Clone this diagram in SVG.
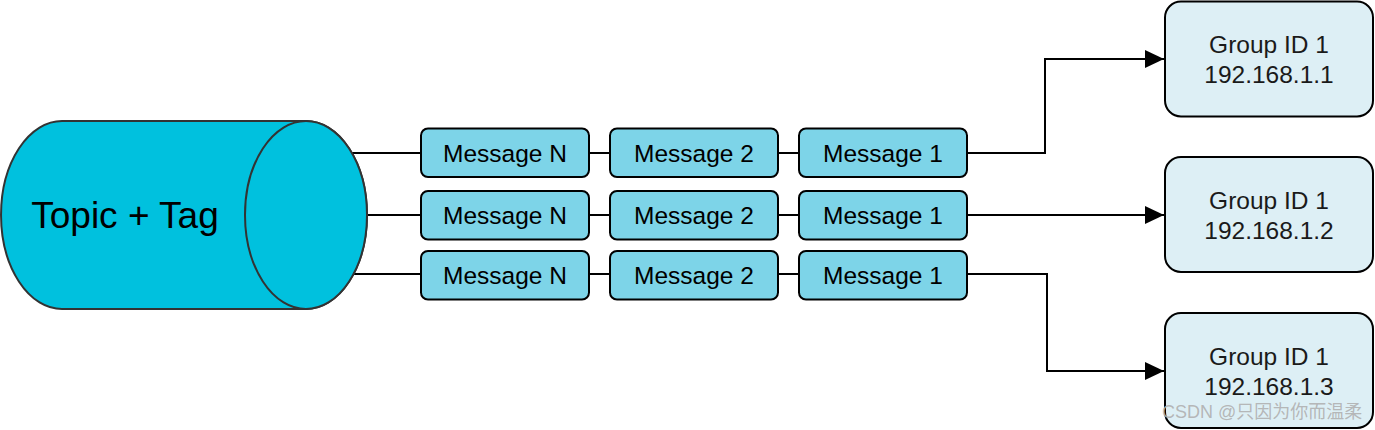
<svg xmlns="http://www.w3.org/2000/svg" width="1375" height="430" viewBox="0 0 1375 430">
  <defs>
    <marker id="arrow" viewBox="0 0 20 20" refX="19" refY="10" markerWidth="20" markerHeight="20" markerUnits="userSpaceOnUse" orient="auto">
      <path d="M0,1 L19,10 L0,19 Z" fill="#000"/>
    </marker>
    <style>
      .msg { fill: #7dd4e8; stroke: #000; stroke-width: 2; }
      .grp { fill: #ddeff5; stroke: #000; stroke-width: 2; }
      .mtxt { font-family: "Liberation Sans", Arial, sans-serif; font-size: 24.5px; fill: #000; text-anchor: middle; }
      .gtxt { font-family: "Liberation Sans", Arial, sans-serif; font-size: 24.5px; fill: #1a1a1a; text-anchor: middle; }
      .conn { fill: none; stroke: #000; stroke-width: 2; }
    </style>
  </defs>
  <rect width="1375" height="430" fill="#fff"/>

  <g id="connectors">
    <line class="conn" x1="352" y1="153" x2="421" y2="153"/>
    <line class="conn" x1="367" y1="215" x2="421" y2="215"/>
    <line class="conn" x1="352" y1="274" x2="421" y2="274"/>
    <line class="conn" x1="589" y1="153" x2="610" y2="153"/>
    <line class="conn" x1="589" y1="215" x2="610" y2="215"/>
    <line class="conn" x1="589" y1="274" x2="610" y2="274"/>
    <line class="conn" x1="778" y1="153" x2="799" y2="153"/>
    <line class="conn" x1="778" y1="215" x2="799" y2="215"/>
    <line class="conn" x1="778" y1="274" x2="799" y2="274"/>
    <path class="conn" d="M968,153 H1045 V59 H1164" marker-end="url(#arrow)"/>
    <path class="conn" d="M968,215 H1164" marker-end="url(#arrow)"/>
    <path class="conn" d="M968,274 H1047 V371 H1164" marker-end="url(#arrow)"/>
  </g>

  <g id="topic">
    <path d="M62,121 H306 A61,94 0 0 1 306,309 H62 A61,94 0 0 1 62,121 Z" fill="#00c1de" stroke="#333" stroke-width="2"/>
    <ellipse cx="306" cy="215" rx="61" ry="94" fill="#00c1de" stroke="#333" stroke-width="2"/>
    <text x="125" y="228" font-family="Liberation Sans, Arial, sans-serif" font-size="37" text-anchor="middle" fill="#000">Topic + Tag</text>
  </g>

  <g id="msgN-1"><rect class="msg" x="421" y="128.5" width="168" height="48.5" rx="7"/><text class="mtxt" x="505" y="161.5">Message N</text></g>
  <g id="msg2-1"><rect class="msg" x="610" y="128.5" width="168" height="48.5" rx="7"/><text class="mtxt" x="694" y="161.5">Message 2</text></g>
  <g id="msg1-1"><rect class="msg" x="799" y="128.5" width="168" height="48.5" rx="7"/><text class="mtxt" x="883" y="161.5">Message 1</text></g>

  <g id="msgN-2"><rect class="msg" x="421" y="191" width="168" height="48.5" rx="7"/><text class="mtxt" x="505" y="224">Message N</text></g>
  <g id="msg2-2"><rect class="msg" x="610" y="191" width="168" height="48.5" rx="7"/><text class="mtxt" x="694" y="224">Message 2</text></g>
  <g id="msg1-2"><rect class="msg" x="799" y="191" width="168" height="48.5" rx="7"/><text class="mtxt" x="883" y="224">Message 1</text></g>

  <g id="msgN-3"><rect class="msg" x="421" y="251" width="168" height="48.5" rx="7"/><text class="mtxt" x="505" y="284">Message N</text></g>
  <g id="msg2-3"><rect class="msg" x="610" y="251" width="168" height="48.5" rx="7"/><text class="mtxt" x="694" y="284">Message 2</text></g>
  <g id="msg1-3"><rect class="msg" x="799" y="251" width="168" height="48.5" rx="7"/><text class="mtxt" x="883" y="284">Message 1</text></g>

  <g id="group1">
    <rect class="grp" x="1165" y="1.5" width="208" height="115" rx="16"/>
    <text class="gtxt" x="1269" y="53">Group ID 1</text>
    <text class="gtxt" x="1269" y="83">192.168.1.1</text>
  </g>
  <g id="group2">
    <rect class="grp" x="1165" y="157" width="208" height="115" rx="16"/>
    <text class="gtxt" x="1269" y="209">Group ID 1</text>
    <text class="gtxt" x="1269" y="239">192.168.1.2</text>
  </g>
  <g id="group3">
    <rect class="grp" x="1165" y="313" width="208" height="115" rx="16"/>
    <text class="gtxt" x="1269" y="365">Group ID 1</text>
    <text class="gtxt" x="1269" y="395">192.168.1.3</text>
  </g>

  <text x="1162" y="418" font-family="Liberation Sans, Arial, 'Noto Sans CJK SC', sans-serif" font-size="18" fill="#b0b0b0" fill-opacity="0.9">CSDN @只因为你而温柔</text>
</svg>
